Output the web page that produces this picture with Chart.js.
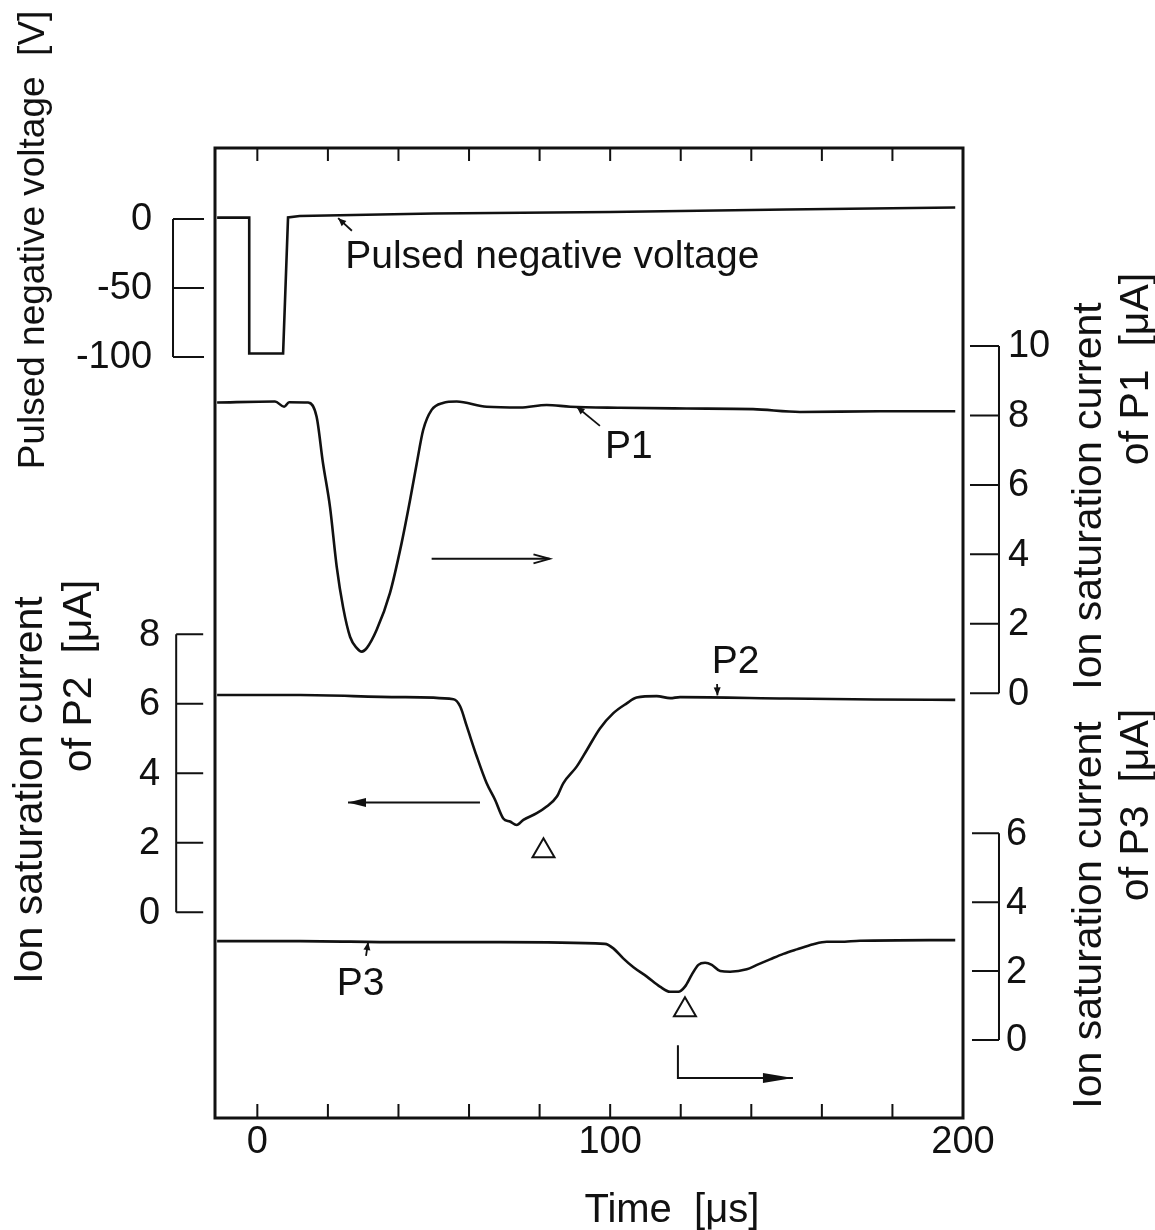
<!DOCTYPE html>
<html>
<head>
<meta charset="utf-8">
<script src="https://cdn.jsdelivr.net/npm/chart.js@4.4.1/dist/chart.umd.min.js"></script>
<style>
  html, body { margin: 0; padding: 0; background: #fff; }
  canvas { display: block; }
</style>
</head>
<body>
<canvas id="pulseChart" width="1155" height="1230"></canvas>
<script>
// time axis [us]
const timeTicks = [0, 20, 40, 60, 80, 100, 120, 140, 160, 180];
const timeLabels = [0, 100, 200];

// pulsed negative voltage [V]
const voltageTime = [-11.4, -2.3, -2.3, 7.3, 8.7, 12, 50, 100, 150, 197.8];
const voltageValue = [1, 1, -97.5, -97.5, 1.1, 2.2, 4.0, 5.1, 6.9, 8.3];
const voltageTicks = [0, -50, -100];

// ion saturation current of P1 [uA]
const p1Time = [-11.4, 5, 7.6, 9, 14.4, 16.8, 18.6, 20.6, 22.5, 24.3, 26.3, 28.2, 29.6, 31.0, 33.8, 37.6, 40.9, 43.3, 45.2, 47.0, 49.4, 52.6, 56.5, 65.0, 74.5, 82.0, 88.7, 102.8, 121.7, 140.5, 153.8, 176.5, 197.8];
const p1Current = [8.37, 8.40, 8.25, 8.38, 8.37, 7.96, 6.63, 5.36, 3.64, 2.48, 1.62, 1.30, 1.20, 1.30, 1.82, 2.89, 4.33, 5.57, 6.63, 7.58, 8.16, 8.36, 8.40, 8.25, 8.23, 8.30, 8.25, 8.22, 8.20, 8.18, 8.10, 8.12, 8.12];
const p1Ticks = [0, 2, 4, 6, 8, 10];

// ion saturation current of P2 [uA]
const p2Time = [-11.4, 12.1, 40.6, 55.6, 57.5, 59.4, 62.2, 65.0, 67.4, 69.7, 71.6, 73.5, 75.4, 79.2, 82.0, 84.9, 86.7, 90.5, 93.4, 97.1, 100.9, 104.7, 107.5, 113.2, 117.0, 119.8, 150, 175, 197.8];
const p2Current = [6.25, 6.25, 6.19, 6.13, 5.92, 5.34, 4.48, 3.71, 3.23, 2.70, 2.61, 2.51, 2.66, 2.85, 3.04, 3.33, 3.71, 4.19, 4.67, 5.29, 5.73, 6.01, 6.18, 6.22, 6.16, 6.19, 6.15, 6.12, 6.11];
const p2Ticks = [0, 2, 4, 6, 8];

// ion saturation current of P3 [uA]
const p3Time = [-11.4, 12.1, 40.6, 68.8, 98.5, 100.9, 103.7, 106.6, 110.4, 114.1, 117.0, 119.3, 121.2, 123.1, 125.0, 126.9, 128.8, 131.2, 134.0, 138.7, 141.6, 145.3, 149.1, 152.9, 157.6, 161.4, 165.2, 170.8, 197.8];
const p3Current = [2.87, 2.87, 2.84, 2.84, 2.79, 2.66, 2.37, 2.11, 1.84, 1.55, 1.40, 1.40, 1.55, 1.89, 2.18, 2.24, 2.18, 2.00, 1.98, 2.05, 2.18, 2.34, 2.50, 2.63, 2.78, 2.85, 2.85, 2.88, 2.90];
const p3Ticks = [0, 2, 4, 6];

const FONT = "'Liberation Sans', Arial, Helvetica, sans-serif";
const INK = '#111';

function pairs(xs, ys) {
    return xs.map((x, i) => ({ x: x, y: ys[i] }));
}

function trace(label, xs, ys, axis, smooth) {
    return {
        label: label,
        data: pairs(xs, ys),
        yAxisID: axis,
        borderColor: INK,
        borderWidth: 2.6,
        pointRadius: 0,
        fill: false,
        cubicInterpolationMode: smooth ? 'monotone' : 'default',
        tension: 0
    };
}

// bracket axes drawn beside the frame, placed on the time scale
const subAxes = [
    { id: 'yV', ticks: voltageTicks, at: -23.9, side: 'left', tick: 31, gap: 21 },
    { id: 'yP2', ticks: p2Ticks, at: -23.0, side: 'left', tick: 27, gap: 16 },
    { id: 'yP1', ticks: p1Ticks, at: 210.2, side: 'right', tick: 29, gap: 9 },
    { id: 'yP3', ticks: p3Ticks, at: 210.2, side: 'right', tick: 27, gap: 7 }
];

const notes = [
    { text: 'Pulsed negative voltage', axis: 'yV', x: 24.9, y: -35.5 },
    { text: 'P1', axis: 'yP1', x: 98.5, y: 6.77 },
    { text: 'P2', axis: 'yP2', x: 128.8, y: 6.89 },
    { text: 'P3', axis: 'yP3', x: 22.5, y: 1.31 }
];

const pointers = [
    { axis: 'yV', from: [26.8, -8.5], to: [22.9, 0.6] },
    { axis: 'yP1', from: [97.1, 7.70], to: [90.5, 8.25] },
    { axis: 'yP2', from: [130.3, 6.57], to: [130.4, 6.24] },
    { axis: 'yP3', from: [30.8, 2.44], to: [31.4, 2.84] }
];

const arrows = [
    { axis: 'yP1', path: [[49.4, 3.87], [82.8, 3.87]], head: 'open' },
    { axis: 'yP2', path: [[63.1, 3.16], [25.7, 3.16]], head: 'filled' },
    { axis: 'yP3', path: [[119.2, -0.15], [119.2, -1.10], [151.8, -1.10]], head: 'long' }
];

const markers = [
    { axis: 'yP2', x: 81.1, y: 1.84 },
    { axis: 'yP3', x: 121.2, y: 0.95 }
];

function vText(ctx, str, baseX, midY) {
    ctx.save();
    ctx.translate(baseX, midY);
    ctx.rotate(-Math.PI / 2);
    ctx.textAlign = 'center';
    ctx.textBaseline = 'alphabetic';
    ctx.fillText(str, 0, 0);
    ctx.restore();
}

function arrowHead(ctx, x0, y0, x1, y1, len, half, kind) {
    const a = Math.atan2(y1 - y0, x1 - x0);
    const bx = x1 - len * Math.cos(a), by = y1 - len * Math.sin(a);
    const px = -Math.sin(a) * half, py = Math.cos(a) * half;
    ctx.beginPath();
    ctx.moveTo(bx + px, by + py);
    ctx.lineTo(x1, y1);
    ctx.lineTo(bx - px, by - py);
    if (kind === 'open') {
        ctx.stroke();
    } else {
        ctx.closePath();
        ctx.fill();
    }
}

const figurePlugin = {
    id: 'figure',
    afterDraw(chart) {
        const ctx = chart.ctx;
        const area = chart.chartArea;
        const xs = chart.scales.x;
        ctx.save();
        ctx.strokeStyle = INK;
        ctx.fillStyle = INK;
        ctx.lineCap = 'butt';

        // frame
        ctx.lineWidth = 3;
        ctx.strokeRect(area.left, area.top, area.right - area.left, area.bottom - area.top);

        // inward time ticks on top and bottom
        ctx.lineWidth = 2;
        timeTicks.forEach(v => {
            const px = xs.getPixelForValue(v);
            ctx.beginPath();
            ctx.moveTo(px, area.bottom);
            ctx.lineTo(px, area.bottom - 14);
            ctx.moveTo(px, area.top);
            ctx.lineTo(px, area.top + 13);
            ctx.stroke();
        });

        // bracket axes
        ctx.font = '38px ' + FONT;
        ctx.textBaseline = 'middle';
        subAxes.forEach(ax => {
            const ys = chart.scales[ax.id];
            const px = xs.getPixelForValue(ax.at);
            const dir = ax.side === 'left' ? 1 : -1;
            const lo = ys.getPixelForValue(Math.min(...ax.ticks));
            const hi = ys.getPixelForValue(Math.max(...ax.ticks));
            ctx.lineWidth = 2;
            ctx.beginPath();
            ctx.moveTo(px, lo);
            ctx.lineTo(px, hi);
            ax.ticks.forEach(t => {
                const py = ys.getPixelForValue(t);
                ctx.moveTo(px, py);
                ctx.lineTo(px + dir * ax.tick, py);
            });
            ctx.stroke();
            ctx.textAlign = ax.side === 'left' ? 'right' : 'left';
            ax.ticks.forEach(t => {
                ctx.fillText(String(t), px - dir * ax.gap, ys.getPixelForValue(t) + 1);
            });
        });

        // trace labels
        ctx.font = '39px ' + FONT;
        ctx.textAlign = 'left';
        ctx.textBaseline = 'alphabetic';
        notes.forEach(n => {
            ctx.fillText(n.text, xs.getPixelForValue(n.x), chart.scales[n.axis].getPixelForValue(n.y));
        });

        // small leader arrows to the traces
        ctx.lineWidth = 1.8;
        pointers.forEach(p => {
            const ys = chart.scales[p.axis];
            const x0 = xs.getPixelForValue(p.from[0]), y0 = ys.getPixelForValue(p.from[1]);
            const x1 = xs.getPixelForValue(p.to[0]), y1 = ys.getPixelForValue(p.to[1]);
            ctx.beginPath();
            ctx.moveTo(x0, y0);
            ctx.lineTo(x1, y1);
            ctx.stroke();
            arrowHead(ctx, x0, y0, x1, y1, 8, 3.5, 'filled');
        });

        // axis direction arrows
        arrows.forEach(a => {
            const ys = chart.scales[a.axis];
            const pts = a.path.map(p => [xs.getPixelForValue(p[0]), ys.getPixelForValue(p[1])]);
            ctx.lineWidth = 2;
            ctx.beginPath();
            pts.forEach((p, i) => (i ? ctx.lineTo(p[0], p[1]) : ctx.moveTo(p[0], p[1])));
            ctx.stroke();
            const p0 = pts[pts.length - 2], p1 = pts[pts.length - 1];
            if (a.head === 'open') {
                arrowHead(ctx, p0[0], p0[1], p1[0], p1[1], 16, 4.5, 'open');
            } else if (a.head === 'long') {
                arrowHead(ctx, p0[0], p0[1], p1[0], p1[1], 30, 5, 'filled');
            } else {
                arrowHead(ctx, p0[0], p0[1], p1[0], p1[1], 18, 4.5, 'filled');
            }
        });

        // open triangles under the minima
        ctx.lineWidth = 2;
        markers.forEach(m => {
            const cx = xs.getPixelForValue(m.x), cy = chart.scales[m.axis].getPixelForValue(m.y);
            ctx.beginPath();
            ctx.moveTo(cx, cy - 10);
            ctx.lineTo(cx + 11, cy + 9);
            ctx.lineTo(cx - 11, cy + 9);
            ctx.closePath();
            ctx.stroke();
        });

        // axis titles
        ctx.font = '40px ' + FONT;
        ctx.textAlign = 'center';
        ctx.fillText('Time  [\u03bcs]', xs.getPixelForValue(117.5), area.bottom + 104);

        ctx.font = '37px ' + FONT;
        vText(ctx, 'Pulsed negative voltage  [V]', 44, 240);
        ctx.font = '41px ' + FONT;
        vText(ctx, 'Ion saturation current', 42, 790);
        vText(ctx, 'of P2  [\u03bcA]', 91, 676);
        vText(ctx, 'Ion saturation current', 1101, 496);
        vText(ctx, 'of P1  [\u03bcA]', 1148, 369);
        vText(ctx, 'Ion saturation current', 1101, 915);
        vText(ctx, 'of P3  [\u03bcA]', 1148, 805);
        ctx.restore();
    }
};

const ctx = document.getElementById('pulseChart');

new Chart(ctx, {
    type: 'line',
    data: {
        datasets: [
            trace('Pulsed negative voltage', voltageTime, voltageValue, 'yV', false),
            trace('P1', p1Time, p1Current, 'yP1', true),
            trace('P2', p2Time, p2Current, 'yP2', true),
            trace('P3', p3Time, p3Current, 'yP3', true)
        ]
    },
    options: {
        responsive: false,
        animation: false,
        layout: { padding: { left: 215, right: 192, top: 148, bottom: 0 } },
        plugins: {
            legend: { display: false },
            tooltip: { enabled: false }
        },
        scales: {
            x: {
                type: 'linear',
                min: -12,
                max: 200,
                afterBuildTicks: s => { s.ticks = timeLabels.map(v => ({ value: v })); },
                afterFit: s => { s.height = 112; },
                grid: { display: false, drawTicks: false },
                border: { display: false },
                ticks: { font: { family: FONT, size: 38 }, color: INK, padding: 2, maxRotation: 0, autoSkip: false }
            },
            yV: { type: 'linear', display: false, min: -651.45, max: 51.45 },
            yP1: { type: 'linear', display: false, min: -12.23, max: 15.70 },
            yP2: { type: 'linear', display: false, min: -5.92, max: 21.99 },
            yP3: { type: 'linear', display: false, min: -2.264, max: 25.89 }
        }
    },
    plugins: [figurePlugin]
});
</script>
</body>
</html>
